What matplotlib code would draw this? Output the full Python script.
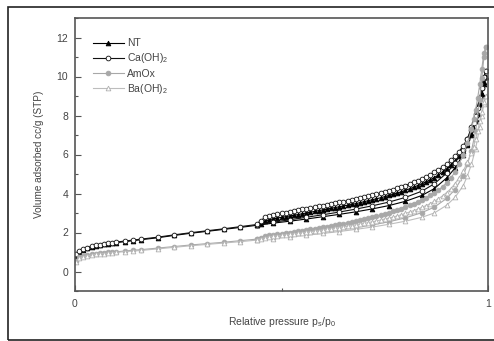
import matplotlib
matplotlib.use("Agg")
import matplotlib.pyplot as plt
import matplotlib.patches
from matplotlib.ticker import MultipleLocator, FixedLocator

plt.rcParams["font.family"] = ["Liberation Sans", "DejaVu Sans"]
plt.rcParams["mathtext.default"] = "regular"

TEXT_COLOR = "#444444"
AXIS_COLOR = "#555555"

# relative pressure of the adsorption and desorption branches
P_ADS = [0.002, 0.01, 0.02, 0.03, 0.04, 0.05, 0.06, 0.07, 0.08, 0.09, 0.10,
         0.12, 0.14, 0.16, 0.20, 0.24, 0.28, 0.32, 0.36, 0.40, 0.44, 0.48,
         0.52, 0.56, 0.60, 0.64, 0.68, 0.72, 0.76, 0.80, 0.84, 0.87, 0.90,
         0.92, 0.94, 0.95, 0.96, 0.97, 0.98, 0.985, 0.99, 0.995]
P_DES = [0.995, 0.99, 0.985, 0.98, 0.975, 0.97, 0.965, 0.96, 0.95, 0.94,
         0.93, 0.92, 0.91, 0.90, 0.89, 0.88, 0.87, 0.86, 0.85, 0.84, 0.83,
         0.82, 0.81, 0.80, 0.79, 0.78, 0.77, 0.76, 0.75, 0.74, 0.73, 0.72,
         0.71, 0.70, 0.69, 0.68, 0.67, 0.66, 0.65, 0.64, 0.63, 0.62, 0.61,
         0.60, 0.59, 0.58, 0.57, 0.56, 0.55, 0.54, 0.53, 0.52, 0.51, 0.50,
         0.49, 0.48, 0.47, 0.46, 0.45, 0.44]

# volume adsorbed, cc/g (STP)
NT_ADS = [0.82, 1.02, 1.12, 1.2, 1.26, 1.31, 1.35, 1.39, 1.42, 1.45, 1.48,
          1.53, 1.58, 1.63, 1.73, 1.85, 1.96, 2.06, 2.16, 2.26, 2.37, 2.48,
          2.58, 2.69, 2.81, 2.93, 3.06, 3.21, 3.38, 3.6, 3.9, 4.25, 4.8,
          5.3, 6.0, 6.5, 7.1, 7.8, 8.6, 9.1, 9.6, 10.0]
NT_DES = [10.0, 9.7, 9.1, 8.6, 8.1, 7.7, 7.3, 7.0, 6.55, 6.2, 5.9, 5.65,
          5.45, 5.25, 5.1, 4.95, 4.82, 4.7, 4.6, 4.5, 4.41, 4.32, 4.24,
          4.16, 4.09, 4.02, 3.96, 3.9, 3.84, 3.78, 3.73, 3.68, 3.63, 3.58,
          3.53, 3.48, 3.44, 3.4, 3.36, 3.32, 3.28, 3.24, 3.2, 3.16, 3.12,
          3.08, 3.04, 3.0, 2.96, 2.92, 2.88, 2.85, 2.81, 2.78, 2.74, 2.7,
          2.65, 2.58, 2.45, 2.36]
CA_ADS = [0.88, 1.06, 1.16, 1.23, 1.29, 1.34, 1.38, 1.42, 1.45, 1.48, 1.51,
          1.56, 1.61, 1.66, 1.76, 1.88, 1.99, 2.09, 2.19, 2.3, 2.41, 2.53,
          2.65, 2.78, 2.91, 3.05, 3.2, 3.37, 3.56, 3.8, 4.12, 4.5, 5.05,
          5.55, 6.25, 6.8, 7.4, 8.1, 8.9, 9.4, 9.9, 10.3]
CA_DES = [10.3, 10.0, 9.4, 8.9, 8.4, 8.0, 7.6, 7.25, 6.8, 6.45, 6.15, 5.9,
          5.7, 5.5, 5.35, 5.2, 5.08, 4.96, 4.85, 4.75, 4.66, 4.57, 4.49,
          4.41, 4.34, 4.27, 4.2, 4.14, 4.08, 4.02, 3.96, 3.91, 3.86, 3.81,
          3.76, 3.71, 3.67, 3.62, 3.58, 3.54, 3.5, 3.46, 3.42, 3.38, 3.34,
          3.3, 3.26, 3.22, 3.18, 3.14, 3.1, 3.06, 3.02, 2.98, 2.94, 2.9,
          2.85, 2.78, 2.6, 2.45]
AMOX_ADS = [0.55, 0.72, 0.8, 0.85, 0.89, 0.92, 0.94, 0.96, 0.98, 1.0, 1.01,
            1.05, 1.09, 1.12, 1.2, 1.28, 1.36, 1.43, 1.5, 1.58, 1.66, 1.74,
            1.83, 1.92, 2.02, 2.13, 2.25, 2.39, 2.55, 2.75, 3.02, 3.3, 3.75,
            4.2, 4.9, 5.5, 6.2, 7.2, 8.8, 9.9, 11.0, 11.5]
AMOX_DES = [11.5, 11.2, 10.4, 9.6, 8.9, 8.3, 7.8, 7.3, 6.6, 6.0, 5.5, 5.1,
            4.8, 4.55, 4.35, 4.18, 4.03, 3.9, 3.78, 3.67, 3.57, 3.48, 3.39,
            3.31, 3.23, 3.16, 3.09, 3.02, 2.96, 2.9, 2.84, 2.78, 2.73, 2.68,
            2.63, 2.58, 2.54, 2.5, 2.46, 2.42, 2.38, 2.34, 2.3, 2.26, 2.23,
            2.19, 2.16, 2.12, 2.09, 2.06, 2.03, 2.0, 1.97, 1.94, 1.91, 1.88,
            1.85, 1.8, 1.74, 1.69]
BA_ADS = [0.5, 0.68, 0.76, 0.81, 0.85, 0.88, 0.9, 0.92, 0.94, 0.96, 0.98,
          1.02, 1.05, 1.08, 1.16, 1.24, 1.32, 1.39, 1.46, 1.53, 1.61, 1.69,
          1.77, 1.86, 1.95, 2.05, 2.16, 2.28, 2.42, 2.58, 2.78, 3.0, 3.4,
          3.8, 4.4, 4.9, 5.5, 6.3, 7.4, 8.0, 8.6, 9.0]
BA_DES = [9.0, 8.7, 8.2, 7.7, 7.2, 6.8, 6.4, 6.1, 5.6, 5.15, 4.8, 4.5,
          4.25, 4.05, 3.88, 3.73, 3.6, 3.48, 3.38, 3.29, 3.2, 3.12, 3.05,
          2.98, 2.91, 2.85, 2.79, 2.74, 2.69, 2.64, 2.59, 2.55, 2.51, 2.47,
          2.43, 2.39, 2.35, 2.32, 2.28, 2.25, 2.22, 2.19, 2.16, 2.13, 2.1,
          2.07, 2.04, 2.01, 1.98, 1.96, 1.93, 1.9, 1.88, 1.85, 1.83, 1.8,
          1.77, 1.73, 1.68, 1.64]

SERIES = [
    ("NT", NT_ADS, NT_DES, "#000000", "^", "#000000", "#000000"),
    ("Ca(OH)$_2$", CA_ADS, CA_DES, "#111111", "o", "#ffffff", "#111111"),
    ("AmOx", AMOX_ADS, AMOX_DES, "#a8a8a8", "o", "#a8a8a8", "#a8a8a8"),
    ("Ba(OH)$_2$", BA_ADS, BA_DES, "#bdbdbd", "^", "#ffffff", "#b0b0b0"),
]

fig = plt.figure(figsize=(4.94, 3.41), dpi=100)
ax = fig.add_axes([75 / 494, 1 - 291 / 341, 413 / 494, 273 / 341])

# outer frame around the whole picture
frame = matplotlib.patches.Rectangle((8 / 494, 1 / 341), 1.0, 333 / 341,
                                     transform=fig.transFigure, fill=False,
                                     edgecolor="#222222", linewidth=1.2)
fig.patches.append(frame)

for name, ads, des, lc, mk, mfc, mec in SERIES:
    ax.plot(P_ADS, ads, color=lc, lw=0.8, marker=mk, markersize=3.4,
            markerfacecolor=mfc, markeredgecolor=mec, markeredgewidth=0.6,
            label=name)
    ax.plot(P_DES, des, color=lc, lw=0.8, marker=mk, markersize=3.4,
            markerfacecolor=mfc, markeredgecolor=mec, markeredgewidth=0.6)

ax.set_xlim(0, 1)
ax.set_ylim(-1, 13)
ax.xaxis.set_major_locator(FixedLocator([0, 1]))
ax.xaxis.set_minor_locator(FixedLocator([0.5]))
ax.yaxis.set_major_locator(MultipleLocator(2))
ax.yaxis.set_minor_locator(MultipleLocator(1))
ax.set_xticklabels(["0", "1"])
ax.tick_params(which="both", direction="in", colors=AXIS_COLOR,
               labelcolor=TEXT_COLOR, labelsize=7.5, width=0.8)
ax.tick_params(which="major", length=4)
ax.tick_params(which="minor", length=2.5)
ax.tick_params(axis="x", pad=6)
ax.tick_params(axis="y", pad=5)
for sp in ax.spines.values():
    sp.set_color(AXIS_COLOR)
    sp.set_linewidth(1.2)

ax.set_xlabel("Relative pressure p$_s$/p$_0$", fontsize=7.5, color=TEXT_COLOR,
              labelpad=4)
ax.set_ylabel("Volume adsorbed cc/g (STP)", fontsize=7.2, color=TEXT_COLOR,
              labelpad=9)

ax.legend(loc="upper left", bbox_to_anchor=(0.02, 0.96), frameon=False,
          fontsize=7.5, handlelength=3.0, handletextpad=0.3,
          labelspacing=0.3, labelcolor=TEXT_COLOR)

fig.savefig("out.png", dpi=100)
